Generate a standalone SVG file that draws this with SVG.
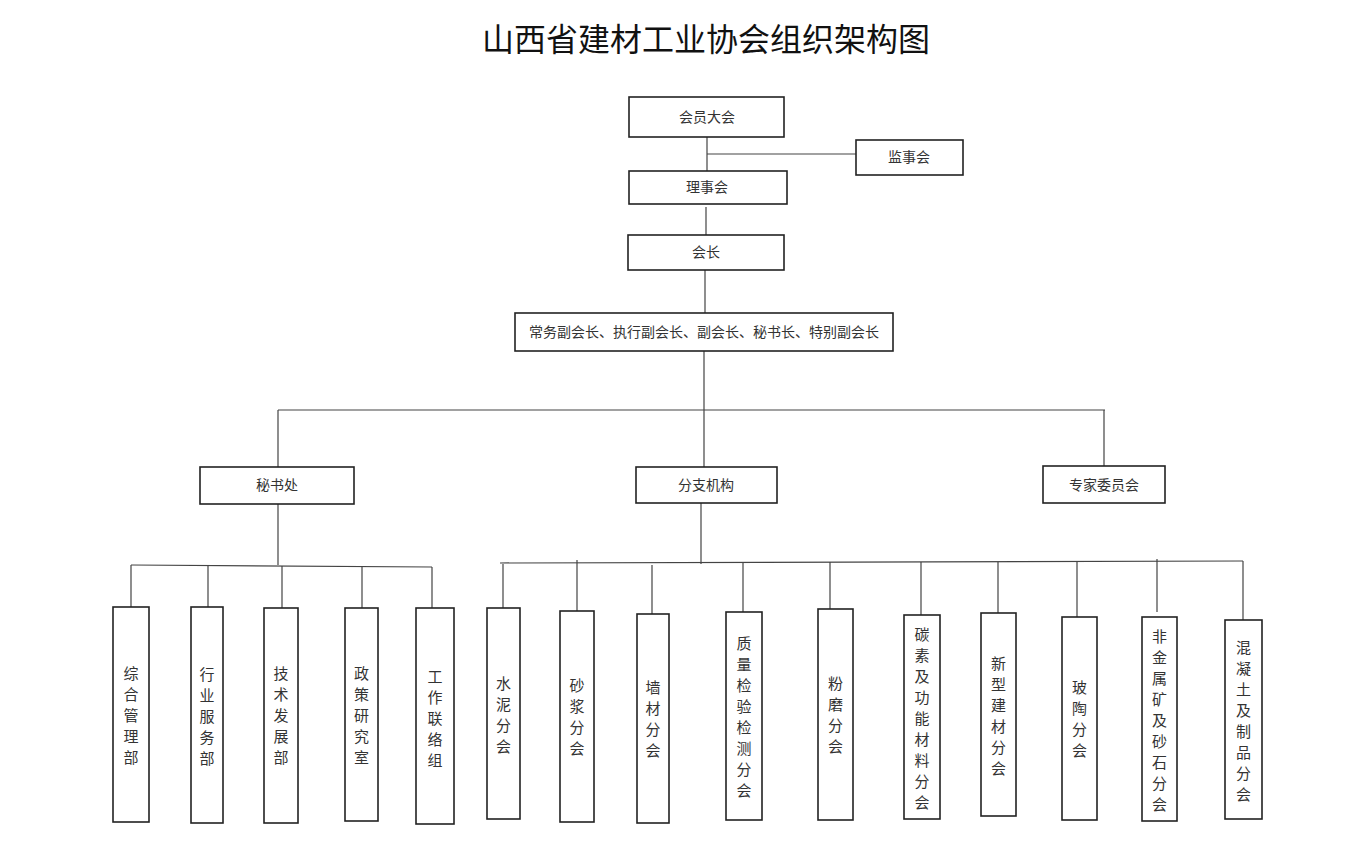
<svg xmlns="http://www.w3.org/2000/svg" width="1359" height="860" viewBox="0 0 1359 860">
<style>
.box{fill:#fff;stroke:#222;stroke-width:1.6}
.lbl{font-family:'Liberation Serif','Noto Sans CJK SC',serif;font-size:14px;fill:#333;text-anchor:middle}
.vl{font-family:'Liberation Serif','Noto Sans CJK SC',serif;font-size:15px;fill:#333;text-anchor:middle}
.title{font-family:'Liberation Serif','Noto Sans CJK SC',serif;font-size:32px;fill:#111;text-anchor:middle}
.conn path{fill:none;stroke:#444;stroke-width:1.2}
</style>
<rect width="1359" height="860" fill="#fff"/>
<text class="title" x="706" y="51">山西省建材工业协会组织架构图</text>

<g class="conn" id="connectors">
<path d="M707 137V171"/>
<path d="M707 154H856"/>
<path d="M706 207V235"/>
<path d="M705 270V313"/>
<path d="M704 351V467"/>
<path d="M278 410H1105"/>
<path d="M278 410V467"/>
<path d="M1104 410V466"/>
<path d="M278 504V565"/>
<path d="M131 565L432 567"/>
<path d="M131 565V607"/>
<path d="M208 565V607"/>
<path d="M282 566V608"/>
<path d="M362 566V608"/>
<path d="M432 567V613"/>
<path d="M701 503V564"/>
<path d="M500 563L1243 561"/>
<path d="M503 564V608"/>
<path d="M577 560V611"/>
<path d="M652 565V614"/>
<path d="M743 563V612"/>
<path d="M830 562V609"/>
<path d="M921 562V615"/>
<path d="M998 562V613"/>
<path d="M1077 562V617"/>
<path d="M1157 559V612"/>
<path d="M1243 561V620"/>
</g>

<g id="n-huiyuan"><rect class="box" x="629" y="97" width="155" height="40"/><text class="lbl" x="707" y="122">会员大会</text></g>
<g id="n-jianshi"><rect class="box" x="856" y="140" width="107" height="35"/><text class="lbl" x="909" y="162">监事会</text></g>
<g id="n-lishi"><rect class="box" x="629" y="171" width="158" height="33"/><text class="lbl" x="707" y="192">理事会</text></g>
<g id="n-huizhang"><rect class="box" x="628" y="235" width="156" height="35"/><text class="lbl" x="706" y="257">会长</text></g>
<g id="n-fuhuizhang"><rect class="box" x="515" y="313" width="378" height="38"/><text class="lbl" x="704" y="337">常务副会长、执行副会长、副会长、秘书长、特别副会长</text></g>
<g id="n-mishuchu"><rect class="box" x="200" y="467" width="154" height="37"/><text class="lbl" x="277" y="490">秘书处</text></g>
<g id="n-fenzhi"><rect class="box" x="636" y="467" width="141" height="36"/><text class="lbl" x="706" y="490">分支机构</text></g>
<g id="n-zhuanjia"><rect class="box" x="1043" y="466" width="122" height="37"/><text class="lbl" x="1104" y="490">专家委员会</text></g>

<g id="n-zonghe"><rect class="box" x="113" y="607" width="36" height="215"/><text class="vl"><tspan x="131" y="678.5">综</tspan><tspan x="131" y="699.5">合</tspan><tspan x="131" y="720.5">管</tspan><tspan x="131" y="741.5">理</tspan><tspan x="131" y="762.5">部</tspan></text></g>
<g id="n-hangye"><rect class="box" x="191" y="607" width="32" height="216"/><text class="vl"><tspan x="207" y="679.5">行</tspan><tspan x="207" y="700.5">业</tspan><tspan x="207" y="721.5">服</tspan><tspan x="207" y="742.5">务</tspan><tspan x="207" y="763.5">部</tspan></text></g>
<g id="n-jishu"><rect class="box" x="264" y="608" width="34" height="215"/><text class="vl"><tspan x="281" y="678.5">技</tspan><tspan x="281" y="699.5">术</tspan><tspan x="281" y="720.5">发</tspan><tspan x="281" y="741.5">展</tspan><tspan x="281" y="762.5">部</tspan></text></g>
<g id="n-zhengce"><rect class="box" x="345" y="608" width="33" height="213"/><text class="vl"><tspan x="361.5" y="678.5">政</tspan><tspan x="361.5" y="699.5">策</tspan><tspan x="361.5" y="720.5">研</tspan><tspan x="361.5" y="741.5">究</tspan><tspan x="361.5" y="762.5">室</tspan></text></g>
<g id="n-gongzuo"><rect class="box" x="416" y="608" width="38" height="216"/><text class="vl"><tspan x="435" y="681.5">工</tspan><tspan x="435" y="702.5">作</tspan><tspan x="435" y="723.5">联</tspan><tspan x="435" y="744.5">络</tspan><tspan x="435" y="765.5">组</tspan></text></g>

<g id="n-shuini"><rect class="box" x="487" y="608" width="33" height="211"/><text class="vl"><tspan x="503.5" y="688.5">水</tspan><tspan x="503.5" y="709.5">泥</tspan><tspan x="503.5" y="730.5">分</tspan><tspan x="503.5" y="751.5">会</tspan></text></g>
<g id="n-shajiang"><rect class="box" x="560" y="611" width="34" height="211"/><text class="vl"><tspan x="577" y="690.5">砂</tspan><tspan x="577" y="711.5">浆</tspan><tspan x="577" y="732.5">分</tspan><tspan x="577" y="753.5">会</tspan></text></g>
<g id="n-qiangcai"><rect class="box" x="637" y="614" width="32" height="209"/><text class="vl"><tspan x="653" y="692.5">墙</tspan><tspan x="653" y="713.5">材</tspan><tspan x="653" y="734.5">分</tspan><tspan x="653" y="755.5">会</tspan></text></g>
<g id="n-zhiliang"><rect class="box" x="726" y="612" width="36" height="208"/><text class="vl"><tspan x="744" y="648.5">质</tspan><tspan x="744" y="669.5">量</tspan><tspan x="744" y="690.5">检</tspan><tspan x="744" y="711.5">验</tspan><tspan x="744" y="732.5">检</tspan><tspan x="744" y="753.5">测</tspan><tspan x="744" y="774.5">分</tspan><tspan x="744" y="795.5">会</tspan></text></g>
<g id="n-fenmo"><rect class="box" x="818" y="609" width="35" height="211"/><text class="vl"><tspan x="835.5" y="688.5">粉</tspan><tspan x="835.5" y="709.5">磨</tspan><tspan x="835.5" y="730.5">分</tspan><tspan x="835.5" y="751.5">会</tspan></text></g>
<g id="n-tansu"><rect class="box" x="904" y="615" width="36" height="204"/><text class="vl"><tspan x="922" y="639.5">碳</tspan><tspan x="922" y="660.5">素</tspan><tspan x="922" y="681.5">及</tspan><tspan x="922" y="702.5">功</tspan><tspan x="922" y="723.5">能</tspan><tspan x="922" y="744.5">材</tspan><tspan x="922" y="765.5">料</tspan><tspan x="922" y="786.5">分</tspan><tspan x="922" y="807.5">会</tspan></text></g>
<g id="n-xinxing"><rect class="box" x="981" y="613" width="35" height="203"/><text class="vl"><tspan x="998.5" y="668.5">新</tspan><tspan x="998.5" y="689.5">型</tspan><tspan x="998.5" y="710.5">建</tspan><tspan x="998.5" y="731.5">材</tspan><tspan x="998.5" y="752.5">分</tspan><tspan x="998.5" y="773.5">会</tspan></text></g>
<g id="n-botao"><rect class="box" x="1062" y="617" width="35" height="203"/><text class="vl"><tspan x="1079.5" y="692.5">玻</tspan><tspan x="1079.5" y="713.5">陶</tspan><tspan x="1079.5" y="734.5">分</tspan><tspan x="1079.5" y="755.5">会</tspan></text></g>
<g id="n-feijinshu"><rect class="box" x="1142" y="617" width="35" height="204"/><text class="vl"><tspan x="1159.5" y="641.5">非</tspan><tspan x="1159.5" y="662.5">金</tspan><tspan x="1159.5" y="683.5">属</tspan><tspan x="1159.5" y="704.5">矿</tspan><tspan x="1159.5" y="725.5">及</tspan><tspan x="1159.5" y="746.5">砂</tspan><tspan x="1159.5" y="767.5">石</tspan><tspan x="1159.5" y="788.5">分</tspan><tspan x="1159.5" y="809.5">会</tspan></text></g>
<g id="n-hunningtu"><rect class="box" x="1225" y="620" width="37" height="199"/><text class="vl"><tspan x="1243.5" y="652.5">混</tspan><tspan x="1243.5" y="673.5">凝</tspan><tspan x="1243.5" y="694.5">土</tspan><tspan x="1243.5" y="715.5">及</tspan><tspan x="1243.5" y="736.5">制</tspan><tspan x="1243.5" y="757.5">品</tspan><tspan x="1243.5" y="778.5">分</tspan><tspan x="1243.5" y="799.5">会</tspan></text></g>
</svg>
